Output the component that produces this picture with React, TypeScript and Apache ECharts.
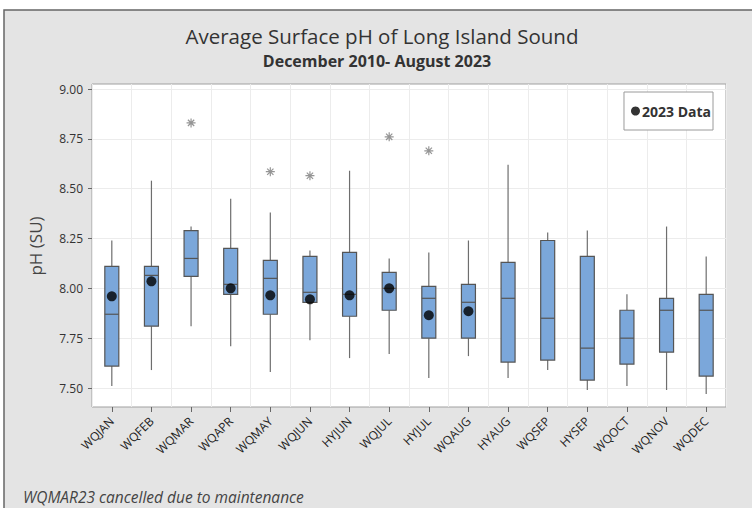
import React, { useEffect, useRef } from "react";
import * as echarts from "echarts";

const categories = ["WQJAN", "WQFEB", "WQMAR", "WQAPR", "WQMAY", "WQJUN", "HYJUN", "WQJUL", "HYJUL", "WQAUG", "HYAUG", "WQSEP", "HYSEP", "WQOCT", "WQNOV", "WQDEC"];
const whiskerLow = [7.51, 7.59, 7.81, 7.71, 7.58, 7.74, 7.65, 7.67, 7.55, 7.66, 7.55, 7.59, 7.49, 7.51, 7.49, 7.47];
const q1 = [7.61, 7.81, 8.06, 7.97, 7.87, 7.93, 7.86, 7.89, 7.75, 7.75, 7.63, 7.64, 7.54, 7.62, 7.68, 7.56];
const median = [7.87, 8.065, 8.15, 8.02, 8.05, 7.98, 7.97, 8.0, 7.95, 7.93, 7.95, 7.85, 7.7, 7.75, 7.89, 7.89];
const q3 = [8.11, 8.11, 8.29, 8.2, 8.14, 8.16, 8.18, 8.08, 8.01, 8.02, 8.13, 8.24, 8.16, 7.89, 7.95, 7.97];
const whiskerHigh = [8.24, 8.54, 8.31, 8.45, 8.38, 8.19, 8.59, 8.15, 8.18, 8.24, 8.62, 8.28, 8.29, 7.97, 8.31, 8.16];
const outlierCats = ["WQMAR", "WQMAY", "WQJUN", "WQJUL", "HYJUL"];
const outlierVals = [8.83, 8.585, 8.565, 8.76, 8.69];
const data2023Cats = ["WQJAN", "WQFEB", "WQAPR", "WQMAY", "WQJUN", "HYJUN", "WQJUL", "HYJUL", "WQAUG"];
const data2023Vals = [7.96, 8.035, 8.0, 7.965, 7.945, 7.965, 8.0, 7.865, 7.885];
const yTicks = { min: 7.5, max: 9.0, interval: 0.25 };

const FONT = "'Open Sans', 'Noto Sans', sans-serif";
const ASTERISK = "path://M5,0L5,10M0,5L10,5M1.5,1.5L8.5,8.5M1.5,8.5L8.5,1.5";

export default function App() {
  const ref = useRef<HTMLDivElement>(null);
  useEffect(() => {
    if (!ref.current) return;
    const chart = echarts.init(ref.current, null, { renderer: "svg" });
    const boxData = categories.map((_, i) => [i, whiskerLow[i], q1[i], median[i], q3[i], whiskerHigh[i]]);
    chart.setOption({
      animation: false,
      backgroundColor: "#ffffff",
      textStyle: { fontFamily: FONT },
      graphic: [
        { type: "rect", z: -100, shape: { x: 4, y: 10, width: 760, height: 510 }, style: { fill: "#e4e4e4", stroke: "#666", lineWidth: 1.5 } },
        { type: "text", x: 382, y: 36, style: { text: "Average Surface pH of Long Island Sound", fontSize: 20.5, fontFamily: FONT, fill: "#333", textAlign: "center", textVerticalAlign: "middle" } },
        { type: "text", x: 377, y: 61, style: { text: "December 2010- August 2023", fontSize: 16, fontWeight: "bold", fontFamily: FONT, fill: "#333", textAlign: "center", textVerticalAlign: "middle" } },
        { type: "text", x: 35, y: 246, rotation: Math.PI / 2, style: { text: "pH (SU)", fontSize: 17, fontFamily: FONT, fill: "#444", textAlign: "center", textVerticalAlign: "middle" } },
        { type: "text", x: 23, y: 497, style: { text: "WQMAR23 cancelled due to maintenance", fontSize: 15.5, fontStyle: "italic", fontFamily: FONT, fill: "#444", textAlign: "left", textVerticalAlign: "middle" } },
      ],
      legend: {
        data: ["2023 Data"],
        right: 39,
        top: 92,
        orient: "vertical",
        backgroundColor: "#fff",
        borderColor: "#9a9a9a",
        borderWidth: 1,
        padding: [12, 2, 12, 7],
        itemWidth: 9,
        itemHeight: 9,
        itemGap: 4,
        textStyle: { fontSize: 14, fontWeight: "bold", color: "#333", fontFamily: FONT, padding: [0, 0, 0, -3] },
      },
      grid: [
        { left: 92, right: 26, top: 89, bottom: 120, containLabel: false },
        { left: 92, right: 26, top: 84, bottom: 101, show: true, backgroundColor: "#fff", borderColor: "#a0a0a0", borderWidth: 1, z: -2 },
      ],
      xAxis: [
        { type: "category", gridIndex: 0, data: categories, show: false },
        {
          type: "category",
          gridIndex: 1,
          data: categories,
          axisLine: { show: false },
          axisTick: { show: true, length: 5, alignWithLabel: true, lineStyle: { color: "#666" } },
          axisLabel: { rotate: 45, fontSize: 12, color: "#222", margin: 12, interval: 0, fontFamily: FONT },
          splitLine: { show: true, lineStyle: { color: "#ececec" } },
          z: -1,
        },
      ],
      yAxis: [
        {
          type: "value",
          gridIndex: 0,
          min: yTicks.min,
          max: yTicks.max,
          interval: yTicks.interval,
          axisLine: { show: false },
          axisTick: { show: true, length: 4, lineStyle: { color: "#666" } },
          axisLabel: { fontSize: 12, color: "#333", margin: 9, formatter: (v: number) => v.toFixed(2), fontFamily: FONT },
          splitLine: { show: true, lineStyle: { color: "#ececec" } },
        },
        { type: "value", gridIndex: 1, show: false, min: 0, max: 1 },
      ],
      series: [
        {
          type: "custom",
          name: "box",
          xAxisIndex: 0,
          yAxisIndex: 0,
          clip: false,
          data: boxData,
          encode: { x: 0, y: [1, 2, 3, 4, 5] },
          renderItem: (params: any, api: any) => {
            const i = api.value(0);
            const lo = api.coord([i, api.value(1)]);
            const b1 = api.coord([i, api.value(2)]);
            const md = api.coord([i, api.value(3)]);
            const b3 = api.coord([i, api.value(4)]);
            const hi = api.coord([i, api.value(5)]);
            const x = lo[0];
            const half = 7;
            return {
              type: "group",
              children: [
                { type: "line", shape: { x1: x, y1: hi[1], x2: x, y2: b3[1] }, style: { stroke: "#6e6e6e", lineWidth: 1.2 } },
                { type: "line", shape: { x1: x, y1: b1[1], x2: x, y2: lo[1] }, style: { stroke: "#6e6e6e", lineWidth: 1.2 } },
                { type: "rect", shape: { x: x - half, y: b3[1], width: half * 2, height: b1[1] - b3[1] }, style: { fill: "#7ba7da", stroke: "#555", lineWidth: 1.2 } },
                { type: "line", shape: { x1: x - half, y1: md[1], x2: x + half, y2: md[1] }, style: { stroke: "#555", lineWidth: 1.2 } },
              ],
            };
          },
          z: 2,
        },
        {
          type: "scatter",
          name: "outliers",
          xAxisIndex: 0,
          yAxisIndex: 0,
          data: outlierCats.map((c, i) => [c, outlierVals[i]]),
          symbol: ASTERISK,
          symbolSize: 9,
          itemStyle: { color: "transparent", borderColor: "#7a7a7a", borderWidth: 1.2 },
          z: 3,
        },
        {
          type: "scatter",
          name: "2023 Data",
          xAxisIndex: 0,
          yAxisIndex: 0,
          data: data2023Cats.map((c, i) => [c, data2023Vals[i]]),
          symbol: "circle",
          symbolSize: 10,
          itemStyle: { color: "#000" },
          z: 4,
        },
      ],
    });
    return () => chart.dispose();
  }, []);
  return <div ref={ref} style={{ position: "fixed", left: 0, top: 0, width: 752, height: 508 }} />;
}
